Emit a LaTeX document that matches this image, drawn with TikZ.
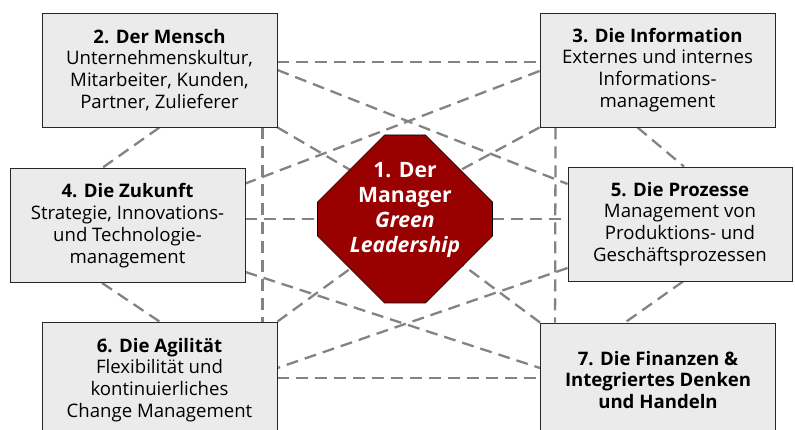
\documentclass[tikz,border=0pt]{standalone}
\usepackage{fontspec}
\setmainfont{Open Sans}
\pgfdeclarelayer{bg}
\pgfsetlayers{bg,main}
\definecolor{boxfill}{HTML}{EBEBEB}
\definecolor{linegray}{HTML}{838383}
\definecolor{octred}{HTML}{990000}
\tikzset{
  box/.style={draw=black!85, line width=0.9pt, fill=boxfill, minimum width=235pt,
    minimum height=114pt, inner sep=0pt, align=center,
    font=\fontsize{18.6}{21.8}\selectfont},
  conn/.style={draw=linegray, line width=2.3pt, dash pattern=on 12pt off 7pt},
  octtext/.style={text=white, align=center, inner sep=0pt,
    font=\bfseries\fontsize{21.2}{25}\selectfont},
  octshape/.style={fill=octred, draw=black, line width=0.6pt}
}
\begin{document}
\begin{tikzpicture}[x=1pt,y=-1pt]
\useasboundingbox (0,0) rectangle (795,430);
\clip (0,0) rectangle (795,430);
% boxes
\node[box] (b2) at (159.5,70) {\textbf{2. Der Mensch}\\Unternehmenskultur,\\Mitarbeiter, Kunden,\\Partner, Zulieferer};
\node[box] (b3) at (657.5,70) {\textbf{3. Die Information}\\Externes und internes\\Informations-\\management};
\node[box] (b4) at (127.5,225.5) {\textbf{4. Die Zukunft}\\Strategie, Innovations-\\und Technologie-\\management};
\node[box, minimum width=224pt] (b5) at (680,224) {\textbf{5. Die Prozesse}\\Management von\\Produktions- und\\Geschäftsprozessen};
\node[box, minimum height=116pt] (b6) at (159.5,380) {\textbf{6. Die Agilität}\\Flexibilität und\\kontinuierliches\\Change Management};
\node[box] (b7) at (658,380) {\textbf{7. Die Finanzen \&}\\\textbf{Integriertes Denken}\\\textbf{und Handeln}};
% octagon
\path[octshape] (384.5,135) -- (425.5,135) -- (492.5,202) -- (492.5,236) -- (425.5,303)
  -- (384.5,303) -- (317.5,236) -- (317.5,202) -- cycle;
\node[octtext] (oct) at (405,210) {1. Der\\Manager\\\textit{Green}\\\textit{Leadership}};
% connectors
\begin{pgfonlayer}{bg}
\draw[conn] ([yshift=8pt]b2.east) -- ([yshift=8pt]b3.west);
\draw[conn] (b2.east) -- ([yshift=40pt]b5.west);
\draw[conn] (b2.south) -- ([xshift=-25.5pt]b4.north);
\draw[conn] ([xshift=-15pt]b2.south east) -- ([xshift=-15pt]b6.north east);
\draw[conn] (b2.south east) -- ([yshift=8pt]oct.center);
\draw[conn] (b3.south west) -- ([yshift=10pt]oct.center);
\draw[conn] ([xshift=16pt]b3.south west) -- ([xshift=15pt]b7.north west);
\draw[conn] ([xshift=-20pt]b3.south) -- ([xshift=4pt]b5.north);
\draw[conn] ([yshift=-1pt]b3.west) -- ([yshift=42pt]b4.east);
\draw[conn] ([yshift=6.5pt]b4.east) -- ([yshift=5pt]b5.west);
\draw[conn] ([yshift=-46.5pt]b4.east) -- ([yshift=12pt]b7.west);
\draw[conn] ([xshift=-25.5pt]b4.south) -- (b6.north);
\draw[conn] ([xshift=3pt]b5.south) -- ([xshift=-33pt]b7.north);
\draw[conn] ([yshift=-44pt]b5.west) -- ([yshift=12pt]b6.east);
\draw[conn] ([yshift=2pt]b6.east) -- ([yshift=2pt]b7.west);
\draw[conn] (b6.north east) -- ([yshift=-19pt]oct.center);
\draw[conn] (b7.north west) -- ([yshift=-12pt]oct.center);
\end{pgfonlayer}
\end{tikzpicture}
\end{document}
